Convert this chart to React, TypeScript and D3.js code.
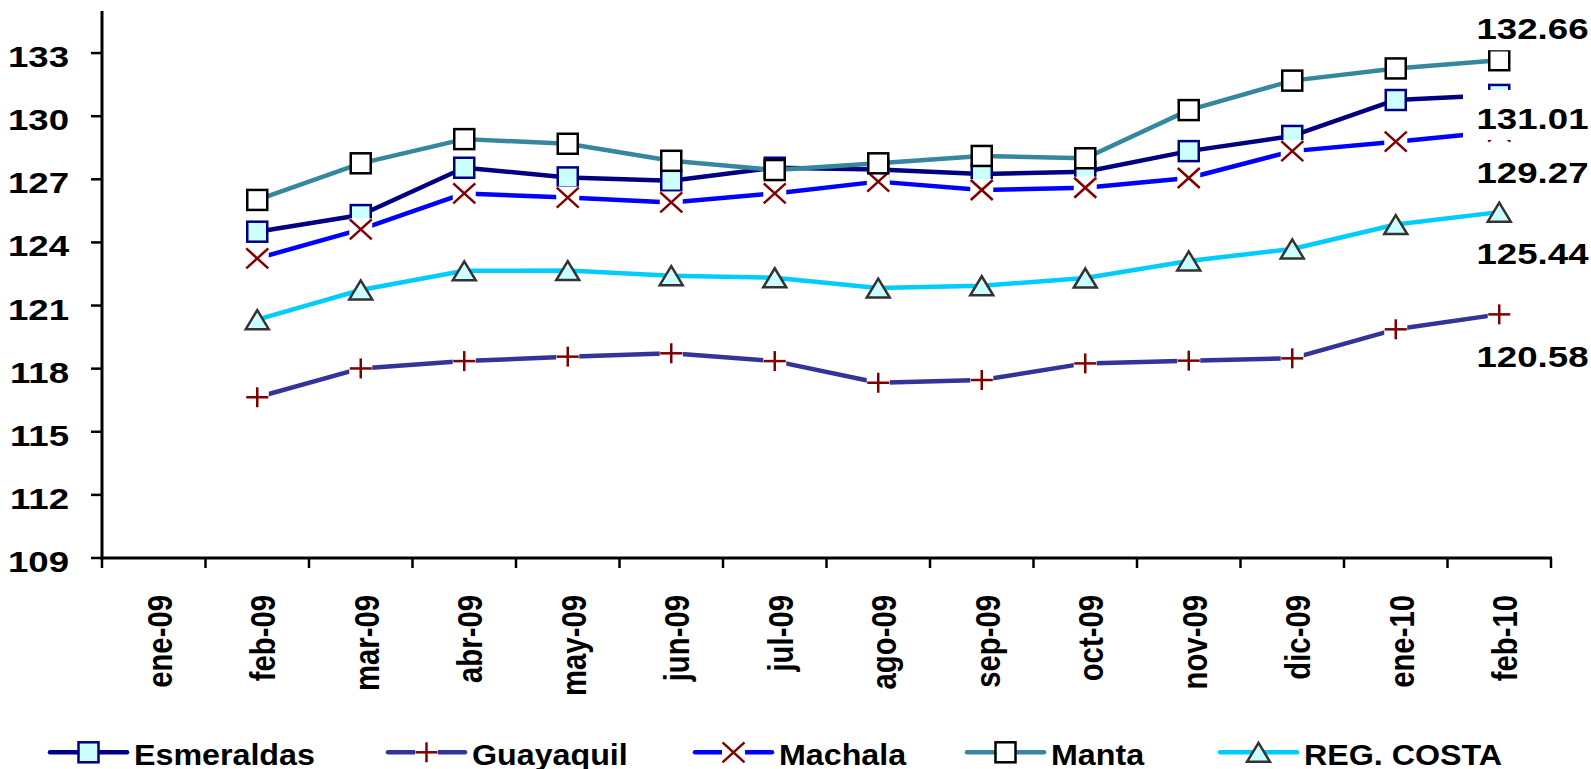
import React from "react";
import * as d3 from "d3";

const categories = ["ene-09","feb-09","mar-09","abr-09","may-09","jun-09","jul-09","ago-09","sep-09","oct-09","nov-09","dic-09","ene-10","feb-10"];
const esmeraldas = [null,124.51,125.30,127.55,127.09,126.93,127.55,127.47,127.25,127.36,128.34,129.06,130.77,131.01];
const guayaquil = [null,116.64,118.01,118.36,118.57,118.73,118.36,117.33,117.46,118.25,118.38,118.49,119.87,120.58];
const machala = [null,123.24,124.62,126.33,126.13,125.90,126.33,126.89,126.49,126.60,127.06,128.34,128.79,129.27];
const manta = [null,126.02,127.76,128.91,128.69,127.88,127.44,127.76,128.11,128.00,130.29,131.69,132.27,132.66];
const regCosta = [null,120.33,121.74,122.65,122.66,122.42,122.32,121.83,121.94,122.31,123.12,123.69,124.85,125.44];
const yTicks = [109,112,115,118,121,124,127,130,133];

type Marker = "square" | "plus" | "cross" | "triangle";
const series = [
  { name: "Esmeraldas", values: esmeraldas, color: "#000080", marker: "square" as Marker, fill: "#CCFFFF", mstroke: "#000080", labelDy: 34, legendX: 50 },
  { name: "Guayaquil", values: guayaquil, color: "#333399", marker: "plus" as Marker, fill: "#fff", mstroke: "#800000", labelDy: 52.6, legendX: 388 },
  { name: "Machala", values: machala, color: "#0000FF", marker: "cross" as Marker, fill: "#fff", mstroke: "#800000", labelDy: 51.5, legendX: 695 },
  { name: "Manta", values: manta, color: "#35879E", marker: "square" as Marker, fill: "#FFFFFF", mstroke: "#000000", labelDy: -21, legendX: 967 },
  { name: "REG. COSTA", values: regCosta, color: "#00CCFF", marker: "triangle" as Marker, fill: "#CCFFFF", mstroke: "#333333", labelDy: 52, legendX: 1220 },
];

const FONT = "'Liberation Sans', Arial, sans-serif";

function MarkerShape({ type, x, y, fill, stroke }: { type: Marker; x: number; y: number; fill: string; stroke: string }) {
  if (type === "square") {
    return <rect x={x - 10} y={y - 10} width={20} height={20} fill={fill} stroke={stroke} strokeWidth={2.5} />;
  }
  if (type === "triangle") {
    return <polygon points={`${x},${y - 9.5} ${x + 11.5},${y + 9.5} ${x - 11.5},${y + 9.5}`} fill={fill} stroke={stroke} strokeWidth={2.5} strokeLinejoin="miter" />;
  }
  if (type === "cross") {
    return (
      <g>
        <rect x={x - 11.5} y={y - 11} width={23} height={22} fill="#fff" />
        <line x1={x - 11} y1={y - 10} x2={x + 11} y2={y + 10} stroke={stroke} strokeWidth={2.5} />
        <line x1={x - 11} y1={y + 10} x2={x + 11} y2={y - 10} stroke={stroke} strokeWidth={2.5} />
      </g>
    );
  }
  return (
    <g>
      <rect x={x - 11.5} y={y - 10} width={23} height={20} fill="#fff" />
      <line x1={x - 11} y1={y} x2={x + 11} y2={y} stroke={stroke} strokeWidth={2.5} />
      <line x1={x} y1={y - 10} x2={x} y2={y + 10} stroke={stroke} strokeWidth={2.5} />
    </g>
  );
}

export default function App() {
  const width = 1591, height = 769;
  const x = d3.scaleBand<string>().domain(categories).range([102, 1551]).paddingInner(0).paddingOuter(0);
  const cx = (c: string) => (x(c) as number) + x.bandwidth() / 2;
  const y = d3.scaleLinear().domain([109, 135]).range([558, 11]);
  const line = d3.line<[string, number | null]>()
    .defined((d) => d[1] != null)
    .x((d) => cx(d[0]))
    .y((d) => y(d[1] as number));
  const last = categories.length - 1;

  return (
    <svg width={width} height={height} style={{ position: "absolute", left: 0, top: 0, background: "#fff" }} fontFamily={FONT}>
      <rect x={0} y={0} width={width} height={height} fill="#fff" />
      {/* axes */}
      <line x1={102} y1={11} x2={102} y2={559.5} stroke="#000" strokeWidth={3} />
      <line x1={100.5} y1={558} x2={1552} y2={558} stroke="#000" strokeWidth={3} />
      {yTicks.map((t) => (
        <g key={t}>
          <line x1={91} y1={y(t)} x2={102} y2={y(t)} stroke="#000" strokeWidth={2.5} />
          <text transform={`translate(69,${y(t) + 14}) scale(1.25,1)`} textAnchor="end" fontSize={29.3} fontWeight="bold" fill="#000">{t}</text>
        </g>
      ))}
      {d3.range(categories.length + 1).map((i) => {
        const xx = 102 + i * x.bandwidth();
        return <line key={i} x1={xx} y1={558} x2={xx} y2={568} stroke="#000" strokeWidth={2.5} />;
      })}
      {categories.map((c) => (
        <text key={c} transform={`translate(${cx(c) + 18},595) scale(1.21,1) rotate(-90)`} textAnchor="end" fontSize={29.3} fontWeight="bold" fill="#000">{c}</text>
      ))}
      {/* lines */}
      {series.map((s) => (
        <path key={s.name} d={line(categories.map((c, i) => [c, s.values[i]] as [string, number | null])) || ""} fill="none" stroke={s.color} strokeWidth={4.5} strokeLinejoin="round" />
      ))}
      {/* markers */}
      {series.map((s) => (
        <g key={s.name}>
          {categories.map((c, i) => s.values[i] == null ? null : (
            <MarkerShape key={c} type={s.marker} x={cx(c)} y={y(s.values[i] as number)} fill={s.fill} stroke={s.mstroke} />
          ))}
        </g>
      ))}
      {/* data labels */}
      {series.map((s) => {
        const by = y(s.values[last] as number) + s.labelDy;
        return (
          <g key={s.name}>
            <rect x={1463} y={by - 39} width={140} height={50} fill="#fff" />
            <text transform={`translate(1476.5,${by}) scale(1.25,1)`} fontSize={29.3} fontWeight="bold" fill="#000">{(s.values[last] as number).toFixed(2)}</text>
          </g>
        );
      })}
      {/* legend */}
      {series.map((s) => {
        const lx = s.legendX;
        const ly = 752.3;
        return (
          <g key={s.name}>
            <line x1={lx} y1={ly} x2={lx + 77} y2={ly} stroke={s.color} strokeWidth={4.5} strokeLinecap="round" />
            <MarkerShape type={s.marker} x={lx + 38.5} y={ly} fill={s.fill} stroke={s.mstroke} />
            <text transform={`translate(${lx + 84},765) scale(1.1,1)`} fontSize={29.3} fontWeight="bold" fill="#000">{s.name}</text>
          </g>
        );
      })}
    </svg>
  );
}
